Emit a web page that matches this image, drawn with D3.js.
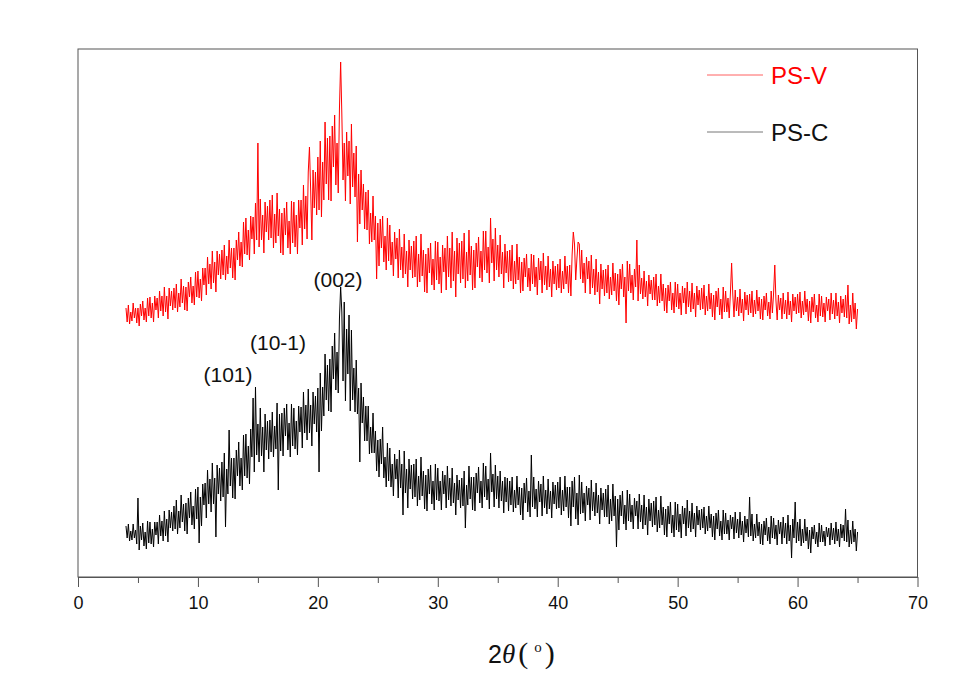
<!DOCTYPE html>
<html>
<head>
<meta charset="utf-8">
<script src="https://cdn.jsdelivr.net/npm/d3@7"></script>
<style>
  html, body { margin: 0; padding: 0; background: #fff; }
  svg { display: block; }
</style>
</head>
<body>
<svg id="chart" width="973" height="693"></svg>
<script>
// ---- data ----
const twoThetaStart = 4;     // first angle of the scan (deg)
const twoThetaStep = 0.1;    // scan step (deg)
const seriesNames = ["PS-V", "PS-C"];
const seriesColors = ["#ff0000", "#000000"];
const xTicks = [0, 10, 20, 30, 40, 50, 60, 70];
const xMinorTicks = [5, 15, 25, 35, 45, 55, 65];
const peakLabels = ["(101)", "(10-1)", "(002)"];

// intensity (a.u.), PS-V, one row per degree (10 points per row)
const psV = [
  269,255,272,253,265,256,274,259,269,254,   // 4
  269,251,273,261,276,257,269,255,279,261,   // 5
  280,259,274,255,281,267,279,259,286,266,   // 6
  281,261,290,265,281,258,289,271,286,267,   // 7
  289,269,293,265,284,270,298,274,291,267,   // 8
  290,266,295,280,300,274,291,272,305,280,   // 9
  306,279,298,276,309,292,309,282,320,293,   // 10
  313,288,326,294,315,285,326,302,323,298,   // 11
  327,302,332,297,321,303,337,309,329,299,   // 12
  329,297,337,317,345,311,335,310,355,323,   // 13
  359,322,347,317,361,338,360,323,374,337,   // 14
  434,330,378,337,362,324,375,345,371,337,   // 15
  377,339,382,329,363,334,384,341,368,324,   // 16
  364,322,369,342,375,329,356,323,376,334,   // 17
  375,330,362,323,377,349,377,332,392,348,   // 18
  381,338,405,430,387,337,407,369,405,362,   // 19
  420,367,436,360,415,377,455,393,439,377,   // 20
  441,376,451,410,462,392,434,384,468,515,   // 21
  463,397,434,376,445,401,436,373,453,390,   // 22
  424,380,431,335,403,353,407,367,393,348,   // 23
  385,347,387,333,364,335,381,337,361,298,   // 24
  354,311,358,329,361,315,341,307,359,316,   // 25
  352,312,335,301,345,318,339,299,348,307,   // 26
  330,299,343,303,326,290,337,307,331,299,   // 27
  336,300,341,290,323,295,343,301,327,285,   // 28
  323,284,329,304,334,292,318,287,336,297,   // 29
  335,293,320,284,332,305,329,287,341,300,   // 30
  329,289,345,296,326,280,339,303,334,294,   // 31
  336,298,344,289,325,296,347,302,331,287,   // 32
  327,289,334,310,340,299,326,295,346,307,   // 33
  346,304,330,294,359,314,338,296,349,307,   // 34
  332,300,342,303,325,289,333,304,326,295,   // 35
  327,296,332,288,316,293,333,297,320,284,   // 36
  315,286,319,300,323,290,309,286,323,293,   // 37
  322,290,310,282,319,297,316,284,324,292,   // 38
  311,287,321,290,308,280,316,293,311,287,   // 39
  313,289,318,284,306,288,321,293,311,284,   // 40
  312,281,322,345,333,297,318,335,333,298,   // 41
  327,294,314,284,320,298,316,283,322,289,   // 42
  308,282,318,285,305,273,313,288,307,281,   // 43
  308,284,312,278,300,282,314,286,304,276,   // 44
  303,272,308,288,313,280,300,254,316,286,   // 45
  313,284,302,277,308,290,337,276,312,283,   // 46
  299,278,306,280,296,271,302,283,297,277,   // 47
  300,277,303,271,291,274,303,276,293,266,   // 48
  289,264,292,276,295,267,284,264,295,270,   // 49
  293,268,284,262,291,274,289,263,295,270,   // 50
  286,265,294,268,284,260,291,272,287,267,   // 51
  289,268,292,262,281,266,293,268,284,260,   // 52
  282,257,286,270,289,262,278,258,290,265,   // 53
  286,265,279,259,284,314,282,260,287,266,   // 54
  280,261,288,264,278,256,285,267,282,262,   // 55
  283,264,286,260,277,263,287,266,280,258,   // 56
  278,257,281,267,284,261,275,258,286,264,   // 57
  284,312,276,257,282,267,279,258,284,263,   // 58
  277,258,285,262,276,255,283,266,280,263,   // 59
  283,264,285,259,276,262,286,265,278,256,   // 60
  276,254,280,265,283,259,272,255,283,261,   // 61
  281,260,274,255,280,266,278,257,284,263,   // 62
  277,258,284,261,275,254,281,264,278,260,   // 63
  282,259,292,253,272,255,284,258,274,248,   // 64
  268                                        // 65
];

// intensity (a.u.), PS-C
const psC = [
  51,39,53,36,46,37,53,39,47,33,             // 4
  79,27,51,37,54,31,45,28,56,34,             // 5
  55,33,48,30,55,42,55,33,62,41,             // 6
  56,36,66,41,58,35,67,49,65,46,             // 7
  71,48,77,43,66,49,82,55,73,46,             // 8
  74,43,79,59,85,52,71,48,88,58,             // 9
  90,34,80,51,93,72,94,59,107,73,            // 10
  98,65,114,73,99,40,112,83,109,76,          // 11
  115,80,124,50,108,83,147,91,119,79,        // 12
  119,78,127,101,135,91,119,87,142,101,      // 13
  143,99,131,93,148,120,179,105,190,122,     // 14
  153,115,169,121,150,105,163,127,156,118,   // 15
  157,125,165,120,151,128,174,87,163,126,    // 16
  164,121,169,141,173,127,154,120,173,131,   // 17
  169,128,156,122,171,145,170,129,185,144,   // 18
  172,137,188,144,172,131,185,153,181,145,   // 19
  189,105,204,146,190,161,223,177,212,166,   // 20
  218,165,231,198,244,187,225,184,258,290,   // 21
  265,196,275,176,248,203,262,166,247,177,   // 22
  209,165,217,163,189,115,194,154,180,136,   // 23
  171,136,171,123,150,124,164,124,146,106,   // 24
  137,100,138,113,150,99,120,90,134,96,      // 25
  129,90,113,81,123,98,118,79,127,89,        // 26
  113,62,126,84,108,69,118,88,112,78,        // 27
  113,80,118,71,101,77,120,81,106,68,        // 28
  102,66,108,83,112,73,96,67,113,77,         // 29
  109,76,96,67,106,83,102,69,111,77,         // 30
  99,71,109,74,94,62,102,77,97,69,           // 31
  99,71,106,49,92,72,111,78,100,67,          // 32
  100,66,104,84,110,74,96,69,114,80,         // 33
  111,77,98,68,124,85,103,70,112,78,         // 34
  101,69,106,76,96,64,100,75,99,66,          // 35
  96,72,100,65,87,69,101,72,90,62,           // 36
  89,57,94,74,99,65,86,60,122,70,            // 37
  100,68,88,60,96,75,93,61,101,69,           // 38
  87,63,98,68,86,59,95,73,92,68,             // 39
  95,69,100,62,87,66,101,70,90,59,           // 40
  90,51,96,70,100,58,84,52,102,63,           // 41
  95,64,84,56,91,72,89,57,97,66,             // 42
  85,61,94,64,82,53,89,67,84,60,             // 43
  88,60,92,53,78,56,93,61,81,30,             // 44
  78,47,82,61,86,53,72,47,87,56,             // 45
  83,55,72,48,79,61,76,48,83,55,             // 46
  72,48,82,52,70,42,78,56,74,50,             // 47
  76,52,80,45,67,49,81,52,70,42,             // 48
  68,40,71,53,75,44,62,40,75,47,             // 49
  73,45,63,39,71,53,69,41,77,49,             // 50
  66,45,74,48,64,40,71,52,67,47,             // 51
  68,49,70,43,61,46,71,49,63,40,             // 52
  61,37,64,48,67,41,56,37,67,43,             // 53
  64,43,57,37,62,48,60,38,65,44,             // 54
  58,39,65,42,56,35,61,44,58,40,             // 55
  80,41,63,36,53,39,63,41,55,33,             // 56
  53,32,56,42,59,36,50,33,61,39,             // 57
  59,38,52,32,57,43,55,33,60,39,             // 58
  54,33,62,36,52,19,58,39,75,34,             // 59
  55,36,58,31,48,34,58,36,50,28,             // 60
  47,24,50,38,52,33,45,30,54,35,             // 61
  52,35,46,31,50,40,49,32,54,37,             // 62
  49,33,55,36,48,30,53,39,52,36,             // 63
  68,35,57,30,47,33,56,35,48,26,             // 64
  45                                         // 65
];

// ---- chart ----
const svg = d3.select("#chart");
const plotLeft = 78, plotRight = 917.5, plotTop = 49, plotBottom = 577;

const x = d3.scaleLinear().domain([0, 70]).range([plotLeft, plotRight]);
const y = d3.scaleLinear().domain([0, 528]).range([plotBottom, plotTop]);

// frame
svg.append("rect")
  .attr("x", plotLeft).attr("y", plotTop)
  .attr("width", plotRight - plotLeft).attr("height", plotBottom - plotTop)
  .attr("fill", "none").attr("stroke", "#555").attr("stroke-width", 1);

// series
const line = d3.line()
  .x((d, i) => x(twoThetaStart + i * twoThetaStep))
  .y(d => y(d));

[psV, psC].forEach((vals, k) => {
  svg.append("path")
    .datum(vals)
    .attr("d", line)
    .attr("fill", "none")
    .attr("stroke", seriesColors[k])
    .attr("stroke-width", 1)
    .attr("stroke-linejoin", "miter");
});

// bottom axis: major
const axis = svg.append("g")
  .attr("transform", `translate(0,${plotBottom})`)
  .call(d3.axisBottom(x).tickValues(xTicks).tickFormat(d3.format("d")).tickSize(10).tickPadding(9).tickSizeOuter(0));
axis.select(".domain").attr("stroke", "#555");
axis.selectAll(".tick line").attr("stroke", "#555");
axis.selectAll("text")
  .attr("font-family", "Liberation Sans, Arial, sans-serif")
  .attr("font-size", 18).attr("fill", "#111");

// minor ticks
svg.append("g")
  .attr("transform", `translate(0,${plotBottom})`)
  .call(d3.axisBottom(x).tickValues(xMinorTicks).tickSize(6).tickFormat(""))
  .call(g => g.select(".domain").remove())
  .selectAll(".tick line").attr("stroke", "#555");

// axis title
const title = svg.append("text")
  .attr("x", 488).attr("y", 663)
  .attr("font-family", "Liberation Sans, Arial, sans-serif")
  .attr("font-size", 25).attr("fill", "#111");
title.append("tspan").text("2");
title.append("tspan").attr("font-family", "Liberation Serif, Times New Roman, serif")
  .attr("font-style", "italic").attr("font-size", 27).text("θ");
title.append("tspan").attr("font-family", "Liberation Serif, Times New Roman, serif")
  .attr("font-size", 30).attr("dx", 3).text("(");
title.append("tspan").attr("font-family", "Liberation Serif, Times New Roman, serif")
  .attr("font-size", 15).attr("dy", -11).attr("dx", 6).text("o");
title.append("tspan").attr("font-family", "Liberation Serif, Times New Roman, serif")
  .attr("font-size", 30).attr("dy", 11).attr("dx", 3).text(")");

// peak labels
const labelPos = [[228, 382], [278, 350], [338, 287]];
peakLabels.forEach((t, i) => {
  svg.append("text")
    .attr("x", labelPos[i][0]).attr("y", labelPos[i][1])
    .attr("text-anchor", "middle")
    .attr("font-family", "Liberation Sans, Arial, sans-serif")
    .attr("font-size", 21).attr("fill", "#111")
    .text(t);
});

// legend
const legendY = [75, 132];
seriesNames.forEach((name, k) => {
  svg.append("line")
    .attr("x1", 707).attr("x2", 763)
    .attr("y1", legendY[k]).attr("y2", legendY[k])
    .attr("stroke", k === 0 ? "#ff6060" : "#777").attr("stroke-width", 1);
  svg.append("text")
    .attr("x", 771).attr("y", legendY[k] + 8.5)
    .attr("font-family", "Liberation Sans, Arial, sans-serif")
    .attr("font-size", 24)
    .attr("fill", k === 0 ? "#ff0000" : "#111")
    .text(name);
});
</script>
</body>
</html>
